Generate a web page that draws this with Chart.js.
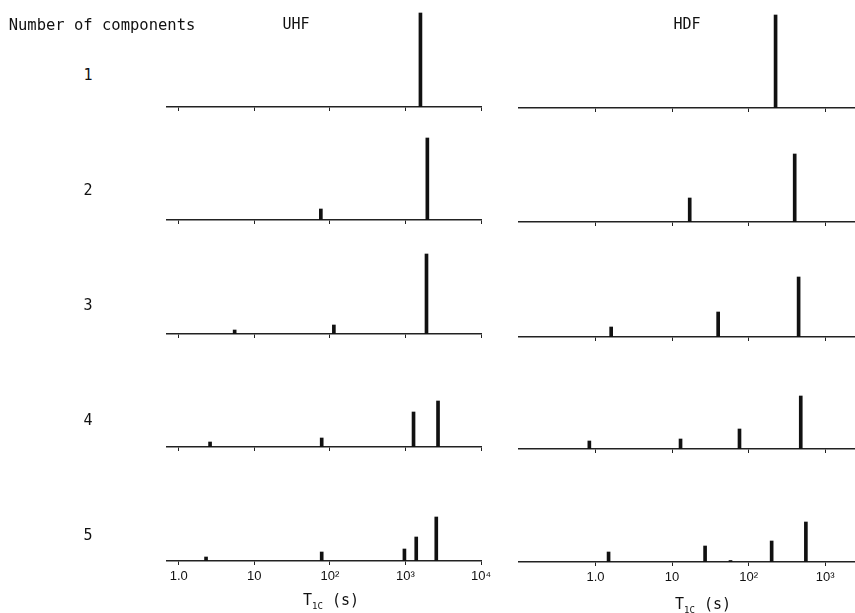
<!DOCTYPE html>
<html>
<head>
<meta charset="utf-8">
<script src="https://cdn.jsdelivr.net/npm/chart.js@4"></script>
<style>
  html, body { margin: 0; padding: 0; background: #fff; overflow: hidden; }
  #wrap { position: relative; width: 855px; height: 613px; overflow: hidden; }
  canvas { position: absolute; }
  .txt { position: absolute; color: #111; white-space: nowrap; transform: translate(-50%, -50%); }
  .mono { font-family: "DejaVu Sans Mono", monospace; }
  .sans { font-family: "Liberation Sans", sans-serif; }
</style>
</head>
<body>
<div id="wrap"></div>
<script>
// T1C relaxation times (s) and relative amplitudes, one sub-array per number of components
const uhfT   = [[1580], [76, 1950], [5.5, 113, 1900], [2.6, 78, 1280, 2700], [2.3, 78, 970, 1390, 2560]];
const uhfAmp = [[94], [11, 82], [4, 9, 80], [5, 9, 35, 46], [4, 9, 12, 24, 44]];
const hdfT   = [[225], [17, 400], [1.6, 40, 450], [0.83, 12.9, 76, 480], [1.48, 27, 58, 200, 560]];
const hdfAmp = [[93], [24, 68], [10, 25, 60], [8, 10, 20, 53], [10, 16, 1.5, 21, 40]];
const rowLabels = ['1', '2', '3', '4', '5'];
const tickValues = [1, 10, 100, 1000, 10000];
const tickLabels = ['1.0', '10', '10²', '10³', '10⁴'];

const wrap = document.getElementById('wrap');

function addText(html, x, y, cls, size) {
    const d = document.createElement('div');
    d.className = 'txt ' + cls;
    d.style.left = x + 'px';
    d.style.top = y + 'px';
    d.style.fontSize = size + 'px';
    d.innerHTML = html;
    wrap.appendChild(d);
}

// one small panel: log time axis along the bottom, spikes going up
function panel(times, amps, left, areaWidth, baseline, xmin, xmax, showLabels) {
    const padX = 30;
    const cv = document.createElement('canvas');
    cv.width = areaWidth + 2 * padX;
    cv.height = 135;
    cv.style.left = (left - padX) + 'px';
    cv.style.top = (baseline - 105) + 'px';
    wrap.appendChild(cv);

    new Chart(cv, {
        type: 'bar',
        data: {
            datasets: [{
                data: times.map((t, i) => ({ x: t, y: amps[i] })),
                backgroundColor: '#111',
                barThickness: 3
            }]
        },
        options: {
            responsive: false,
            animation: false,
            devicePixelRatio: 1,
            layout: { padding: { left: padX, right: padX, top: 5, bottom: 6 } },
            plugins: { legend: { display: false }, tooltip: { enabled: false } },
            scales: {
                x: {
                    type: 'logarithmic',
                    min: xmin,
                    max: xmax,
                    offset: false,
                    afterBuildTicks: s => {
                        s.ticks = tickValues.filter(v => v >= xmin && v <= xmax).map(v => ({ value: v }));
                    },
                    afterFit: s => { s.height = 24; },
                    grid: { offset: false, drawOnChartArea: false, drawTicks: true, tickLength: 4, color: '#222' },
                    border: { display: true, color: '#222', width: 1.5 },
                    ticks: {
                        autoSkip: false,
                        maxRotation: 0,
                        padding: 4,
                        color: showLabels ? '#111' : 'rgba(0,0,0,0)',
                        font: { family: 'Liberation Sans', size: 13 },
                        callback: v => tickLabels[tickValues.indexOf(v)]
                    }
                },
                y: { display: false, min: 0, max: 100 }
            }
        }
    });
}

const uhfBase = [107, 220, 334, 447, 561];
const hdfBase = [108, 222, 337, 449, 562];
const rowY = [75, 190, 305, 420, 535];

for (let r = 0; r < 5; r++) {
    panel(uhfT[r], uhfAmp[r], 167, 314, uhfBase[r], Math.pow(10, -0.13), 10000, r === 4);
    panel(hdfT[r], hdfAmp[r], 519, 336, hdfBase[r], 0.1, Math.pow(10, 3.39), r === 4);
    addText(rowLabels[r], 88, rowY[r], 'mono', 15);
}

addText('Number of components', 102, 25, 'mono', 15.5);
addText('UHF', 296, 24, 'mono', 15);
addText('HDF', 687, 24, 'mono', 15);
addText('T<sub style="font-size:9px">1C</sub> (s)', 331, 601, 'mono', 15);
addText('T<sub style="font-size:9px">1C</sub> (s)', 703, 605, 'mono', 15);
</script>
</body>
</html>
